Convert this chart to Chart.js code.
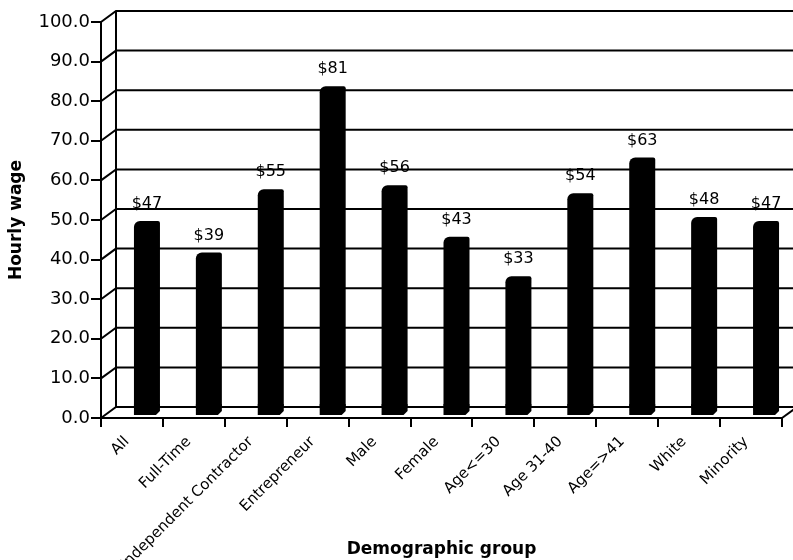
<!DOCTYPE html>
<html>
<head>
<meta charset="utf-8">
<script src="https://cdn.jsdelivr.net/npm/chart.js@4"></script>
<style>
  html, body { margin: 0; padding: 0; background: #fff; }
  #wrap { width: 793px; height: 560px; }
</style>
</head>
<body>
<div id="wrap"><canvas id="graficoSalarios"></canvas></div>
<script>
const grupos = ["All", "Full-Time", "Independent Contractor", "Entrepreneur", "Male", "Female",
  "Age<=30", "Age 31-40", "Age=>41", "White", "Minority"];
const salarios = [47, 39, 55, 81, 56, 43, 33, 54, 63, 48, 47];
const ticksY = [0, 10, 20, 30, 40, 50, 60, 70, 80, 90, 100];

// depth of the fake 3D back wall
const DX = 15, DY = -11;

Chart.defaults.font.family = "'DejaVu Sans', sans-serif";
Chart.defaults.color = "#000";

const profundidad = {
  id: "profundidad",
  beforeDatasetsDraw(chart) {
    const { ctx, chartArea, scales: { y } } = chart;
    ctx.save();
    ctx.strokeStyle = "#000";
    ctx.lineWidth = 2;
    ticksY.forEach(v => {
      const py = y.getPixelForValue(v);
      ctx.beginPath();
      ctx.moveTo(chartArea.left, py);
      ctx.lineTo(chartArea.left + DX, py + DY);
      ctx.lineTo(v === 0 ? chartArea.right + DX : chart.width, py + DY);
      ctx.stroke();
    });
    // back wall
    ctx.beginPath();
    ctx.moveTo(chartArea.left + DX, chartArea.top + DY);
    ctx.lineTo(chartArea.left + DX, chartArea.bottom + DY);
    ctx.stroke();
    // right floor edge
    ctx.beginPath();
    ctx.moveTo(chartArea.right, chartArea.bottom);
    ctx.lineTo(chartArea.right + DX, chartArea.bottom + DY);
    ctx.stroke();
    ctx.restore();

    ctx.save();
    ctx.translate(DX, DY);
  },
  afterDatasetsDraw(chart) {
    const ctx = chart.ctx;
    const barras = chart.getDatasetMeta(0).data;
    ctx.fillStyle = "#000";
    barras.forEach((b, i) => {
      const l = b.x - b.width / 2, r = b.x + b.width / 2;
      // column foot
      ctx.beginPath();
      ctx.moveTo(l, b.base - 2);
      ctx.lineTo(r, b.base - 2);
      ctx.lineTo(r, b.base + 5);
      ctx.lineTo(r - 4, b.base + 9);
      ctx.lineTo(l, b.base + 9);
      ctx.closePath();
      ctx.fill();
      // value label
      ctx.font = "16px 'DejaVu Sans', sans-serif";
      ctx.textAlign = "center";
      ctx.textBaseline = "bottom";
      ctx.fillText("$" + salarios[i], b.x, b.y - 9);
    });
    ctx.restore();
  }
};

new Chart(document.getElementById("graficoSalarios"), {
  type: "bar",
  data: {
    labels: grupos,
    datasets: [{
      data: salarios,
      backgroundColor: "#000",
      borderWidth: 0,
      borderRadius: { topLeft: 6, topRight: 2, bottomLeft: 0, bottomRight: 0 },
      borderSkipped: false,
      barPercentage: 0.42,
      categoryPercentage: 1
    }]
  },
  plugins: [profundidad],
  options: {
    responsive: true,
    maintainAspectRatio: false,
    animation: false,
    layout: { padding: { top: 22, right: 11, left: 0, bottom: 0 } },
    plugins: {
      legend: { display: false },
      tooltip: { enabled: false }
    },
    scales: {
      x: {
        afterFit: s => { s.height = 142; },
        grid: { drawOnChartArea: false, drawTicks: true, tickLength: 9, color: "#000", lineWidth: 2 },
        border: { display: true, color: "#000", width: 2 },
        ticks: { minRotation: 45, maxRotation: 45, padding: 6, labelOffset: -5, autoSkip: false,
                 font: { size: 15 } },
        title: { display: true, text: "Demographic group", font: { size: 17, weight: "bold" },
                 padding: { top: 2, bottom: 0 } }
      },
      y: {
        min: 0,
        max: 100,
        afterFit: s => { s.width = 101; },
        grid: { drawOnChartArea: false, drawTicks: true, tickLength: 10, color: "#000", lineWidth: 2 },
        border: { display: true, color: "#000", width: 2 },
        ticks: { stepSize: 10, padding: 1, font: { size: 18 },
                 callback: v => Number(v).toFixed(1) },
        title: { display: true, text: "Hourly wage", font: { size: 17, weight: "bold" },
                 padding: { top: 6, bottom: 0 } }
      }
    }
  }
});
</script>
</body>
</html>
